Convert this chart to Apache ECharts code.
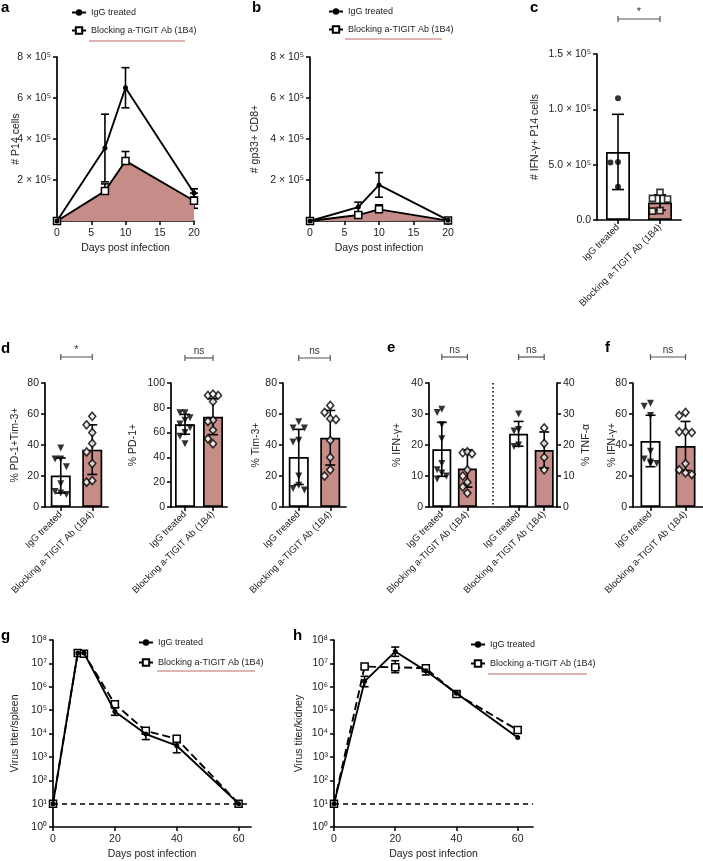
<!DOCTYPE html>
<html><head><meta charset="utf-8">
<script src="https://cdn.jsdelivr.net/npm/echarts@6/dist/echarts.min.js"></script>
<style>html,body{margin:0;padding:0;background:#fff}#c{width:703px;height:861px}</style>
</head><body><div id="c"></div>
<script>
// ================= DATA =================
const seriesNames = ['IgG treated', 'Blocking a-TIGIT Ab (1B4)'];
const barCategories = ['IgG treated', 'Blocking a-TIGIT Ab (1B4)'];
const xTitle = 'Days post infection';

// panel a  (# P14 cells)
const aDays = [0, 7, 10, 20];
const aIgG = [0, 356000, 650000, 137000];
const aIgGSD = [0, 165000, 98000, 20000];
const aBlk = [0, 146000, 293000, 99000];
const aBlkSD = [0, 35000, 46000, 37000];

// panel b  (# gp33+ CD8+)
const bDays = [0, 7, 10, 20];
const bIgG = [0, 68000, 176000, 4000];
const bIgGSD = [0, 24000, 60000, 0];
const bBlk = [0, 29000, 57000, 2000];
const bBlkSD = [0, 9000, 22000, 0];

// panel c  (# IFN-γ+ P14 cells)
const cMean = [61500, 15800];
const cSD = [34000, 7000];
const cIgGPts = [110000, 52500, 52000, 30000];
const cBlkPts = [25000, 19500, 19000, 8500, 8000];
const cTickLabels = ['0.0', '5.0 × 10⁵', '1.0 × 10⁵', '1.5 × 10⁵'];

// panel d
const d1Mean = [20.3, 37.0];
const d1SD = [11.3, 16.0];
const d1IgGPts = [38, 31, 31, 26, 15, 10, 8, 9];
const d1BlkPts = [58.5, 53, 48, 41, 35.5, 28, 16, 17];

const d2Mean = [66.7, 72.8];
const d2SD = [8.0, 14.5];
const d2IgGPts = [76, 76, 72, 70, 67, 64, 60, 57, 51];
const d2BlkPts = [90, 90, 91, 85, 70, 69, 62, 55, 51];

const d3Mean = [32.3, 44.7];
const d3SD = [17.8, 17.6];
const d3IgGPts = [55, 51, 51, 43, 42, 20, 14, 12, 11];
const d3BlkPts = [65.5, 61, 57, 56.5, 43, 32, 24, 20];

// panel e  (left: % IFN-γ+, right: % TNF-α)
const eCategories = ['IgG treated', 'Blocking a-TIGIT Ab (1B4)', '', 'IgG treated', 'Blocking a-TIGIT Ab (1B4)'];
const eIfnMean = [18.6, 12.4];
const eIfnSD = [8.7, 6.0];
const eIfnIgGPts = [31.5, 30.5, 26.5, 22, 14, 12, 11, 10, 9];
const eIfnBlkPts = [17.5, 17.8, 17.2, 12, 10, 8, 6.5, 4.5];
const eTnfMean = [23.6, 18.4];
const eTnfSD = [4.0, 5.8];
const eTnfIgGPts = [30, 25, 24.5, 20, 19.5];
const eTnfBlkPts = [25.5, 20.5, 16, 12];

// panel f  (% IFN-γ+)
const fMean = [42.6, 39.4];
const fSD = [16.6, 15.8];
const fIgGPts = [67, 65, 59, 36, 31, 29, 28, 28];
const fBlkPts = [61, 59, 48.5, 48.5, 48, 28, 24, 22, 21];

// panel g  (virus titer / spleen)
const gDays = [0, 8, 10, 20, 30, 40, 60];
const gIgG = [10, 2.8e7, 2.8e7, 8.7e4, 9.5e3, 3.0e3, 10];
const gIgGLo = [10, 2.8e7, 2.8e7, 6.0e4, 5.5e3, 1.5e3, 10];
const gIgGHi = [10, 2.8e7, 2.8e7, 1.3e5, 1.6e4, 5.5e3, 10];
const gBlk = [10, 2.8e7, 2.6e7, 1.8e5, 1.3e4, 5.9e3, 10];
const gBlkLo = [10, 2.8e7, 2.6e7, 1.3e5, 1.0e4, 4.0e3, 10];
const gBlkHi = [10, 2.8e7, 2.6e7, 2.4e5, 1.6e4, 8.0e3, 10];

// panel h  (virus titer / kidney)
const hDays = [0, 10, 20, 30, 40, 60];
const hIgG = [10, 1.7e6, 3.2e7, 4.8e6, 5.3e5, 6.7e3];
const hIgGLo = [10, 1.0e6, 2.0e7, 3.2e6, 4.5e5, 6.7e3];
const hIgGHi = [10, 2.8e6, 5.0e7, 6.5e6, 6.2e5, 6.7e3];
const hBlk = [10, 7.3e6, 6.8e6, 6.2e6, 4.9e5, 1.4e4];
const hBlkLo = [10, 6.0e6, 4.0e6, 5.0e6, 4.2e5, 1.2e4];
const hBlkHi = [10, 9.0e6, 1.3e7, 7.5e6, 5.8e5, 1.6e4];

const detectionLimit = 10;
const significance = { c: '*', d1: '*', d2: 'ns', d3: 'ns', eL: 'ns', eR: 'ns', f: 'ns' };

// ================= STYLE / LAYOUT =================
const FONT = 'Liberation Sans, Arial, Helvetica, sans-serif';
const PINK = '#c68c87';
const PINK_LINE = '#d39c97';
const L = {
  a: {left: 57, top: 57, width: 137, height: 164},
  b: {left: 310, top: 57, width: 138, height: 164},
  c: {left: 597, top: 54, width: 84, height: 166},
  d1: {left: 45, top: 383, width: 63, height: 124},
  d2: {left: 171, top: 383, width: 56, height: 124},
  d3: {left: 283, top: 383, width: 63, height: 124},
  e: {left: 429, top: 383, width: 128, height: 124},
  f: {left: 633, top: 383, width: 72, height: 124},
  g: {left: 53, top: 640, width: 198, height: 187},
  h: {left: 334, top: 640, width: 199, height: 187}
};
const SUP = {'0':'⁰','1':'¹','2':'²','3':'³','4':'⁴','5':'⁵','6':'⁶','7':'⁷','8':'⁸','9':'⁹'};
const axLine = {show: true, onZero: false, lineStyle: {color: '#000', width: 1.7}};
const axTick = {show: true, inside: false, length: 4, lineStyle: {color: '#000', width: 1.5}};
const lab = (extra) => Object.assign({color: '#222', fontSize: 10.5, fontFamily: FONT, margin: 6}, extra || {});
const nameTS = {color: '#222', fontSize: 10.5, fontFamily: FONT};
const noSplit = {show: false};

const grids = [], xAxes = [], yAxes = [], series = [];
const hidden = {}; // hidden value axes for bar panels
const yIdx = {};

function errSeries(xi, yi, pts, cap) {
  return {
    type: 'custom', xAxisIndex: xi, yAxisIndex: yi, data: pts, z: 2, silent: true, animation: false,
    encode: {x: 0, y: [1, 2]},
    renderItem: (p, api) => {
      const x = api.value(0), lo = api.value(1), hi = api.value(2);
      const a = api.coord([x, hi]), b = api.coord([x, lo]);
      const st = {stroke: '#000', lineWidth: 1.6};
      return {type: 'group', children: [
        {type: 'line', shape: {x1: a[0], y1: a[1], x2: b[0], y2: b[1]}, style: st},
        {type: 'line', shape: {x1: a[0] - cap, y1: a[1], x2: a[0] + cap, y2: a[1]}, style: st},
        {type: 'line', shape: {x1: b[0] - cap, y1: b[1], x2: b[0] + cap, y2: b[1]}, style: st}
      ]};
    }
  };
}

function lineSeries(name, xi, yi, days, vals, dashed, area) {
  const blk = name === seriesNames[1];
  const s = {
    type: 'line', name, xAxisIndex: xi, yAxisIndex: yi,
    data: days.map((d, i) => [d, vals[i]]),
    symbol: blk ? 'rect' : 'circle', symbolSize: blk ? 7 : 5, showAllSymbol: true,
    itemStyle: blk ? {color: '#fff', borderColor: '#000', borderWidth: 1.5} : {color: '#000'},
    lineStyle: {color: '#000', width: 1.9, type: dashed ? [8, 4] : 'solid'},
    z: blk ? 3 : 4, animation: false
  };
  if (area) s.areaStyle = {color: PINK, opacity: 1};
  return s;
}

// ---------- line panels ----------
function linePanel(key, o) {
  const gi = grids.length; grids.push(L[key]);
  const xi = xAxes.length;
  const xa = {type: 'value', gridIndex: gi, min: o.xMin, max: o.xMax, interval: o.xInt,
    axisLine: axLine, axisTick: axTick, splitLine: noSplit,
    axisLabel: lab({margin: 7, formatter: v => (v % o.xInt === 0 ? String(v) : '')}),
    name: xTitle, nameLocation: 'middle', nameGap: 22, nameMoveOverlap: false, nameTextStyle: nameTS};
  if (o.xTicks) { xa.axisLabel.customValues = o.xTicks; xa.axisTick = Object.assign({}, axTick, {customValues: o.xTicks}); }
  xAxes.push(xa);
  const yi = yAxes.length;
  yAxes.push(Object.assign({gridIndex: gi, axisLine: axLine, axisTick: axTick, splitLine: noSplit,
    name: o.yName, nameLocation: 'middle', nameGap: o.nameGap, nameRotate: 90, nameMoveOverlap: false, nameTextStyle: nameTS,
    axisLabel: lab({formatter: o.yFmt})}, o.yAxis));
  return {xi, yi};
}

// a
{
  const {xi, yi} = linePanel('a', {xMin: 0, xMax: 20, xInt: 5, yName: '# P14 cells', nameGap: 35,
    yAxis: {type: 'value', min: 0, max: 800000, interval: 200000},
    yFmt: v => v === 0 ? '' : (v / 100000) + ' × 10⁵'});
  series.push(lineSeries(seriesNames[1], xi, yi, aDays, aBlk, false, true));
  series.push(lineSeries(seriesNames[0], xi, yi, aDays, aIgG, false, false));
  series.push(errSeries(xi, yi, aDays.map((d, i) => [d, aIgG[i] - aIgGSD[i], aIgG[i] + aIgGSD[i]]).filter((p, i) => aIgGSD[i] > 0), 4));
  series.push(errSeries(xi, yi, aDays.map((d, i) => [d, aBlk[i] - aBlkSD[i], aBlk[i] + aBlkSD[i]]).filter((p, i) => aBlkSD[i] > 0), 4));
}
// b
{
  const {xi, yi} = linePanel('b', {xMin: 0, xMax: 20, xInt: 5, yName: '# gp33+ CD8+', nameGap: 49,
    yAxis: {type: 'value', min: 0, max: 800000, interval: 200000},
    yFmt: v => v === 0 ? '' : (v / 100000) + ' × 10⁵'});
  series.push(lineSeries(seriesNames[1], xi, yi, bDays, bBlk, false, true));
  series.push(lineSeries(seriesNames[0], xi, yi, bDays, bIgG, false, false));
  series.push(errSeries(xi, yi, bDays.map((d, i) => [d, bIgG[i] - bIgGSD[i], bIgG[i] + bIgGSD[i]]).filter((p, i) => bIgGSD[i] > 0), 4));
  series.push(errSeries(xi, yi, bDays.map((d, i) => [d, bBlk[i] - bBlkSD[i], bBlk[i] + bBlkSD[i]]).filter((p, i) => bBlkSD[i] > 0), 4));
}
// g, h
function logPanel(key, name, nameGap, xMax, days, igg, iggLo, iggHi, blk, blkLo, blkHi) {
  const {xi, yi} = linePanel(key, {xMin: 0, xMax: xMax, xInt: 20, xTicks: [0, 20, 40, 60], yName: name, nameGap,
    yAxis: {type: 'log', logBase: 10, min: 1, max: 1e8},
    yFmt: v => '10' + SUP[String(Math.round(Math.log10(v)))]});
  const b = lineSeries(seriesNames[1], xi, yi, days, blk, true, false);
  b.markLine = {silent: true, symbol: 'none', label: {show: false},
    lineStyle: {color: '#000', type: [5, 4], width: 1.6}, data: [{yAxis: detectionLimit}], animation: false};
  series.push(b);
  series.push(lineSeries(seriesNames[0], xi, yi, days, igg, false, false));
  series.push(errSeries(xi, yi, days.map((d, i) => [d, iggLo[i], iggHi[i]]).filter(p => p[2] > p[1]), 4));
  series.push(errSeries(xi, yi, days.map((d, i) => [d, blkLo[i], blkHi[i]]).filter(p => p[2] > p[1]), 4));
}
logPanel('g', 'Virus titer/spleen', 32, 64, gDays, gIgG, gIgGLo, gIgGHi, gBlk, gBlkLo, gBlkHi);
logPanel('h', 'Virus titer/kidney', 29, 65, hDays, hIgG, hIgGLo, hIgGHi, hBlk, hBlkLo, hBlkHi);

// ---------- bar panels ----------
function jitter(vals, yMax) {
  const cand = [0, -0.18, 0.18, -0.3, 0.3];
  const placed = [], out = new Array(vals.length);
  vals.map((v, i) => i).sort((a, b) => vals[b] - vals[a]).forEach(i => {
    const v = vals[i];
    let off = cand.find(c => !placed.some(p => Math.abs(p.v - v) < yMax * 0.075 && Math.abs(p.o - c) < 0.15));
    if (off === undefined) off = 0;
    placed.push({v, o: off}); out[i] = off;
  });
  return out;
}

function barPanel(key, o) {
  const gi = grids.length; grids.push(L[key]);
  const n = o.cats.length;
  const xi = xAxes.length;
  xAxes.push({type: 'category', gridIndex: gi, data: o.cats, boundaryGap: true,
    axisLine: axLine,
    axisTick: Object.assign({}, axTick, {alignWithLabel: true, interval: (i) => o.cats[i] !== ''}),
    axisLabel: lab({rotate: 45, interval: 0, fontSize: 9.5, margin: 6})});
  const hx = xAxes.length;
  xAxes.push({type: 'value', gridIndex: gi, min: -0.5, max: n - 0.5, show: false});
  hidden[key] = hx;
  const yList = [];
  o.yAxes.forEach(ya => {
    yList.push(yAxes.length);
    yAxes.push(Object.assign({type: 'value', gridIndex: gi, min: 0, axisLine: axLine, axisTick: axTick, splitLine: noSplit,
      nameLocation: 'middle', nameRotate: 90, nameMoveOverlap: false, nameTextStyle: nameTS}, ya,
      {axisLabel: lab(ya.axisLabel || {})}));
  });
  yIdx[key] = yList;
  o.groups.forEach(gr => {
    const yi = yList[gr.axis];
    const data = o.cats.map((c, i) => i === gr.pos ? {value: gr.mean,
      itemStyle: {color: gr.igg ? '#fff' : PINK, borderColor: '#000', borderWidth: 1.7}} : '-');
    series.push({type: 'bar', name: key + '-bar-' + gr.pos, xAxisIndex: xi, yAxisIndex: yi, data,
      barWidth: o.barWidth, barGap: '-100%', z: 1, animation: false, silent: true});
    series.push(errSeries(hx, yi, [[gr.pos, gr.mean - gr.sd, gr.mean + gr.sd]], o.cap));
    const offs = jitter(gr.pts, o.yMax);
    series.push({type: 'scatter', name: key + '-pts-' + gr.pos, xAxisIndex: hx, yAxisIndex: yi,
      data: gr.pts.map((v, i) => [gr.pos + offs[i], v]),
      symbol: o.sym[gr.igg ? 0 : 1], symbolRotate: (gr.igg && o.sym[0] === 'triangle') ? 180 : 0,
      symbolSize: o.symSize[gr.igg ? 0 : 1],
      itemStyle: gr.igg ? {color: '#000'} : {color: '#fff', borderColor: '#000', borderWidth: 1.6},
      z: 5, animation: false, silent: true});
  });
}

const pctAxis = (max, int, name, gap) => ({max, interval: int, name, nameGap: gap});

barPanel('c', {cats: barCategories, yMax: 150000, barWidth: 24, cap: 6, sym: ['circle', 'rect'], symSize: [6, 6],
  yAxes: [{max: 150000, interval: 50000, name: '# IFN-γ+ P14 cells', nameGap: 56,
    axisLabel: {formatter: v => cTickLabels[Math.round(v / 50000)]}}],
  groups: [{pos: 0, axis: 0, mean: cMean[0], sd: cSD[0], pts: cIgGPts, igg: true},
           {pos: 1, axis: 0, mean: cMean[1], sd: cSD[1], pts: cBlkPts, igg: false}]});

const dSym = ['triangle', 'diamond'], dSize = [7, [7, 8]];
barPanel('d1', {cats: barCategories, yMax: 80, barWidth: 20, cap: 5, sym: dSym, symSize: dSize,
  yAxes: [pctAxis(80, 20, '% PD-1+Tim-3+', 24)],
  groups: [{pos: 0, axis: 0, mean: d1Mean[0], sd: d1SD[0], pts: d1IgGPts, igg: true},
           {pos: 1, axis: 0, mean: d1Mean[1], sd: d1SD[1], pts: d1BlkPts, igg: false}]});
barPanel('d2', {cats: barCategories, yMax: 100, barWidth: 20, cap: 5, sym: dSym, symSize: dSize,
  yAxes: [pctAxis(100, 20, '% PD-1+', 32)],
  groups: [{pos: 0, axis: 0, mean: d2Mean[0], sd: d2SD[0], pts: d2IgGPts, igg: true},
           {pos: 1, axis: 0, mean: d2Mean[1], sd: d2SD[1], pts: d2BlkPts, igg: false}]});
barPanel('d3', {cats: barCategories, yMax: 80, barWidth: 20, cap: 5, sym: dSym, symSize: dSize,
  yAxes: [pctAxis(80, 20, '% Tim-3+', 21)],
  groups: [{pos: 0, axis: 0, mean: d3Mean[0], sd: d3SD[0], pts: d3IgGPts, igg: true},
           {pos: 1, axis: 0, mean: d3Mean[1], sd: d3SD[1], pts: d3BlkPts, igg: false}]});
barPanel('e', {cats: eCategories, yMax: 40, barWidth: 19, cap: 5, sym: dSym, symSize: dSize,
  yAxes: [pctAxis(40, 10, '% IFN-γ+', 26),
          Object.assign(pctAxis(40, 10, '% TNF-α', 24), {position: 'right'})],
  groups: [{pos: 0, axis: 0, mean: eIfnMean[0], sd: eIfnSD[0], pts: eIfnIgGPts, igg: true},
           {pos: 1, axis: 0, mean: eIfnMean[1], sd: eIfnSD[1], pts: eIfnBlkPts, igg: false},
           {pos: 3, axis: 1, mean: eTnfMean[0], sd: eTnfSD[0], pts: eTnfIgGPts, igg: true},
           {pos: 4, axis: 1, mean: eTnfMean[1], sd: eTnfSD[1], pts: eTnfBlkPts, igg: false}]});
barPanel('f', {cats: barCategories, yMax: 80, barWidth: 20, cap: 5, sym: dSym, symSize: dSize,
  yAxes: [pctAxis(80, 20, '% IFN-γ+', 15)],
  groups: [{pos: 0, axis: 0, mean: fMean[0], sd: fSD[0], pts: fIgGPts, igg: true},
           {pos: 1, axis: 0, mean: fMean[1], sd: fSD[1], pts: fBlkPts, igg: false}]});

// ---------- legends ----------
const legendBase = {orient: 'vertical', itemWidth: 14, itemHeight: 8, selectedMode: false,
  data: seriesNames, textStyle: {fontSize: 9, fontFamily: FONT, color: '#222'}, padding: 0};
const legends = [
  Object.assign({left: 71, top: 8, itemGap: 9}, legendBase),
  Object.assign({left: 328, top: 7, itemGap: 9}, legendBase),
  Object.assign({left: 138, top: 638, itemGap: 11}, legendBase),
  Object.assign({left: 470, top: 640, itemGap: 10}, legendBase)
];

const letters = [['a', 1, 15], ['b', 252, 15], ['c', 530, 15], ['d', 1, 356], ['e', 387, 355],
  ['f', 605, 355], ['g', 1, 643], ['h', 293, 643]];
const graphics = letters.map(([t, x, y]) => ({type: 'text', left: x, top: y - 15,
  style: {text: t, font: 'bold 15px ' + FONT, fill: '#000'}}));
[[89, 185, 41], [345, 442, 39], [157, 255, 671], [488, 587, 674]].forEach(([x1, x2, y]) =>
  graphics.push({type: 'line', shape: {x1, y1: y, x2, y2: y}, style: {stroke: PINK_LINE, lineWidth: 1.5}}));

const chart = echarts.init(document.getElementById('c'), null, {renderer: 'canvas'});
chart.setOption({
  animation: false,
  backgroundColor: '#fff',
  textStyle: {fontFamily: FONT},
  grid: grids, xAxis: xAxes, yAxis: yAxes, series, legend: legends, graphic: graphics
});

// significance brackets + divider, positioned through the axes
const brackets = [['c', 0, 1, 19], ['d1', 0, 1, 357], ['d2', 0, 1, 358], ['d3', 0, 1, 358],
  ['e', 0, 1, 357, 'eL'], ['e', 3, 4, 357, 'eR'], ['f', 0, 1, 357]];
brackets.forEach(([key, i0, i1, y, sk]) => {
  const x0 = chart.convertToPixel({xAxisIndex: hidden[key]}, i0);
  const x1 = chart.convertToPixel({xAxisIndex: hidden[key]}, i1);
  const st = {stroke: '#555', lineWidth: 1.2};
  const txt = significance[sk || key];
  graphics.push({type: 'line', shape: {x1: x0, y1: y, x2: x1, y2: y}, style: st});
  graphics.push({type: 'line', shape: {x1: x0, y1: y - 3, x2: x0, y2: y + 3}, style: st});
  graphics.push({type: 'line', shape: {x1: x1, y1: y - 3, x2: x1, y2: y + 3}, style: st});
  graphics.push({type: 'text', x: (x0 + x1) / 2, y: y - 2,
    style: {text: txt, font: (txt === '*' ? '11px ' : '10px ') + FONT, fill: '#333', align: 'center', verticalAlign: 'bottom'}});
});
{
  const xd = chart.convertToPixel({xAxisIndex: hidden.e}, 2);
  const yt = chart.convertToPixel({yAxisIndex: yIdx.e[0]}, 40);
  const yb = chart.convertToPixel({yAxisIndex: yIdx.e[0]}, 0);
  graphics.push({type: 'line', shape: {x1: xd, y1: yt, x2: xd, y2: yb},
    style: {stroke: '#000', lineWidth: 1.5, lineDash: [1.5, 2.5]}});
}
chart.setOption({graphic: graphics});
</script></body></html>
